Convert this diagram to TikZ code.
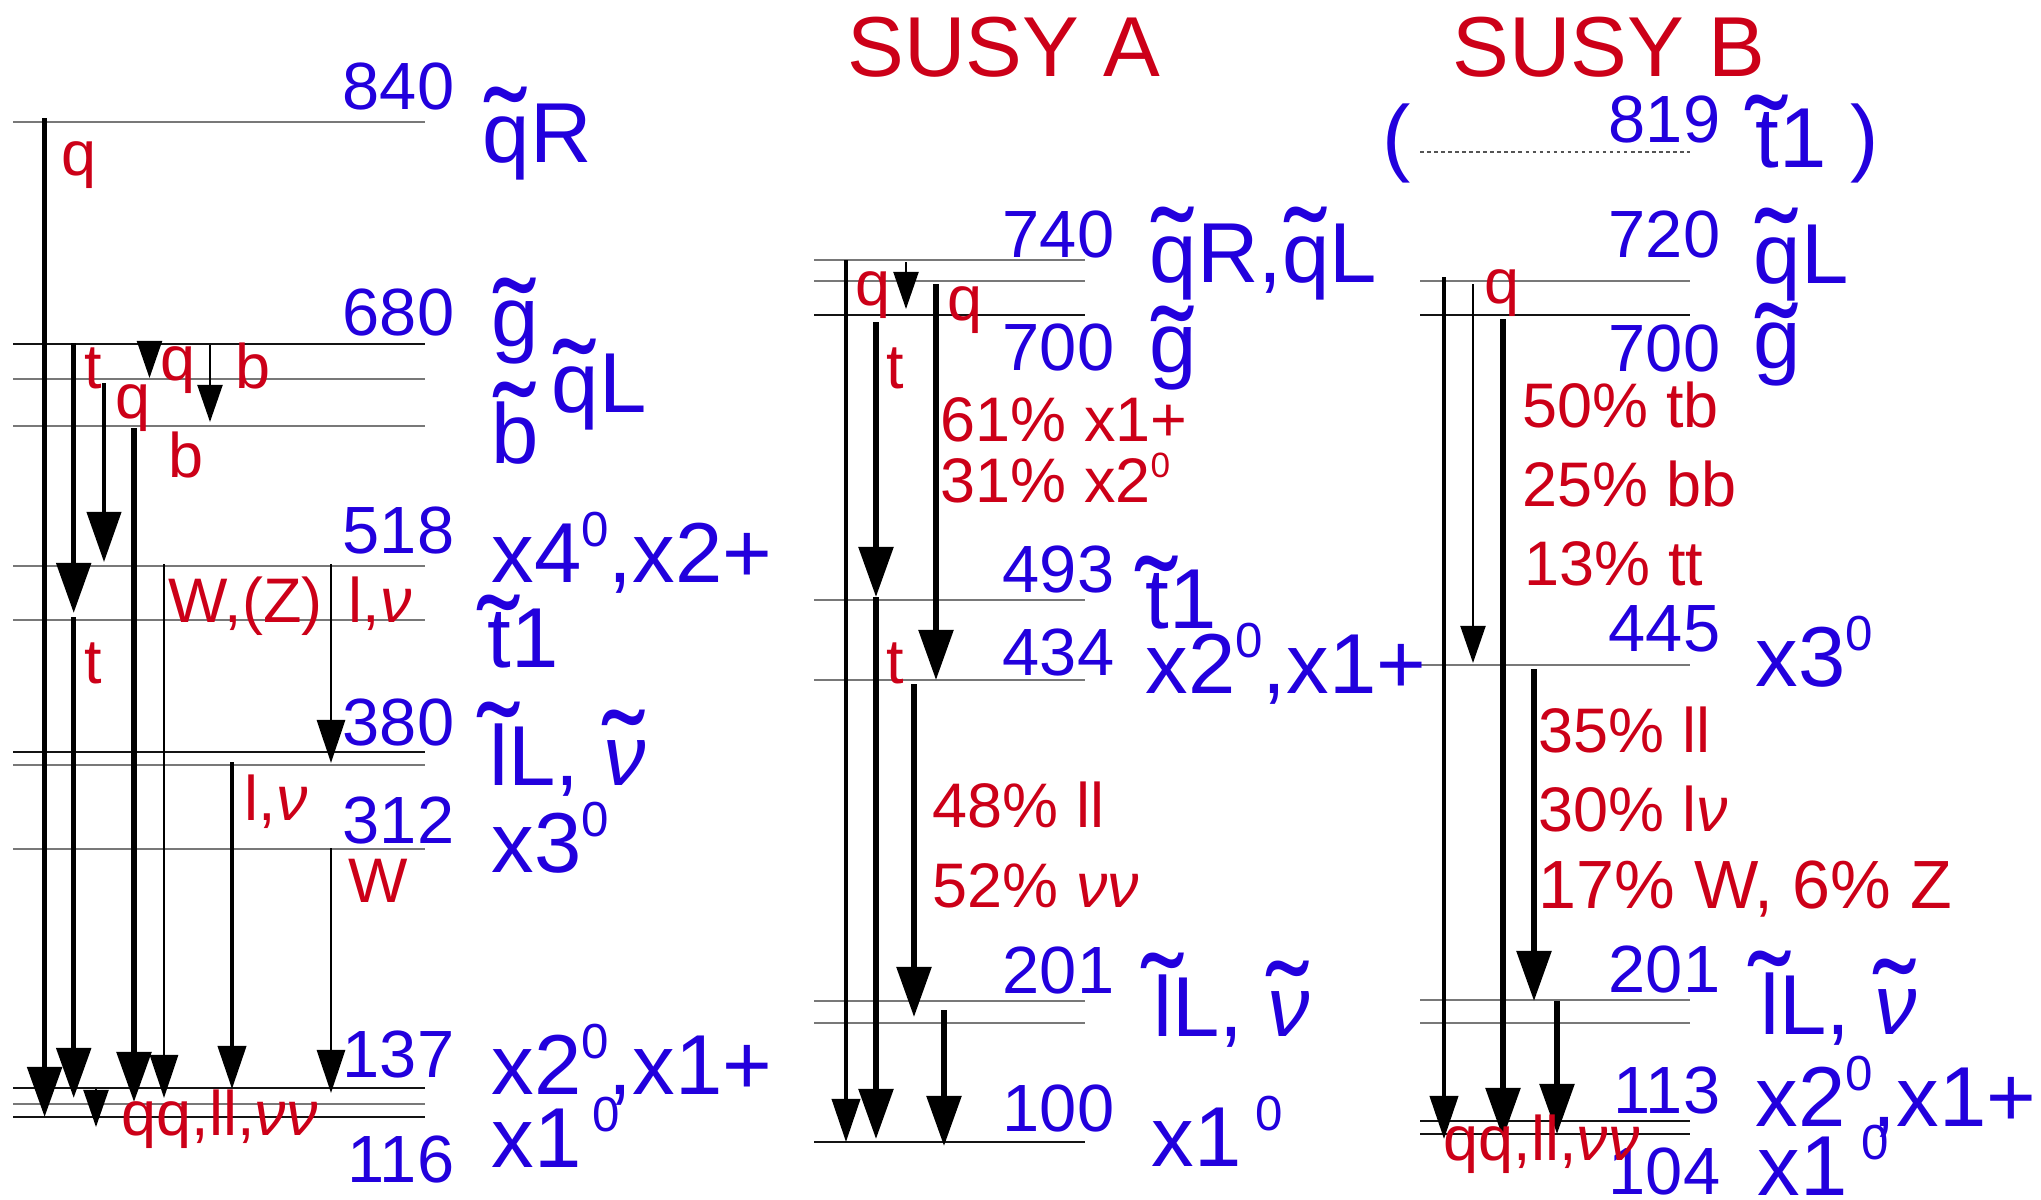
\documentclass[tikz,border=0pt]{standalone}
\usepackage{fontspec}
\usepackage{graphicx}
\setmainfont{Liberation Sans}
\usetikzlibrary{arrows.meta}
\definecolor{lblue}{RGB}{34,0,221}
\definecolor{lred}{RGB}{204,0,24}
\definecolor{lvgray}{RGB}{120,120,120}
\definecolor{lvblack}{RGB}{20,20,20}
\newcommand\tld[2][0.88]{{\setbox0\hbox{\char"02DC}\ooalign{#2\cr\hidewidth\raisebox{\dimexpr#1em-1.4\ht0\relax}{\scalebox{1.45}[1.4]{\copy0}}\hidewidth\cr}}}
\newcommand\vnu{{\itshape ν}}
\newcommand\sups[1]{\raisebox{10pt}{\fontsize{14}{14}\selectfont #1}}
\newcommand\rsup[1]{\raisebox{7pt}{\fontsize{10}{10}\selectfont #1}}
\tikzset{
 lvg/.style={line width=0.6pt, draw=lvgray},
 lvk/.style={line width=0.6pt, draw=lvblack},
 lvd/.style={line width=0.45pt, draw=lvgray!70!black, dash pattern=on 1pt off 1pt},
 arbig/.style={line width=1.55pt, -{Triangle[length=0.5cm,width=0.34cm]}},
 armed/.style={line width=0.85pt, -{Triangle[length=0.43cm,width=0.28cm]}},
 arsml/.style={line width=0.57pt, -{Triangle[length=0.37cm,width=0.25cm]}},
 num/.style={text=lblue, inner sep=0pt, anchor=base east, font=\fontsize{19}{19}\selectfont},
 nam/.style={text=lblue, inner sep=0pt, anchor=base west, font=\fontsize{24.2}{25}\selectfont},
 dec/.style={text=lred, inner sep=0pt, anchor=base west, font=\fontsize{17.9}{18}\selectfont},
 ttl/.style={text=lred, inner sep=0pt, anchor=base west, font=\fontsize{24.2}{25}\selectfont},
}
\begin{document}
\begin{tikzpicture}[x=0.01cm,y=-0.01cm]
\useasboundingbox (0,0) rectangle (2041,1200);
% ---------- level lines: left ----------
\draw[lvg] (13,122) -- (425,122);
\draw[lvk] (13,344) -- (425,344);
\draw[lvg] (13,379) -- (425,379);
\draw[lvg] (13,426) -- (425,426);
\draw[lvg] (13,566) -- (425,566);
\draw[lvg] (13,620) -- (425,620);
\draw[lvk] (13,752) -- (425,752);
\draw[lvg] (13,765) -- (425,765);
\draw[lvg] (13,849) -- (425,849);
\draw[lvk] (13,1088) -- (425,1088);
\draw[lvg] (13,1104) -- (425,1104);
\draw[lvk] (13,1117) -- (425,1117);
% ---------- level lines: middle ----------
\draw[lvg] (814,260) -- (1085,260);
\draw[lvg] (814,281) -- (1085,281);
\draw[lvk] (814,315) -- (1085,315);
\draw[lvg] (814,600) -- (1085,600);
\draw[lvg] (814,680) -- (1085,680);
\draw[lvg] (814,1001) -- (1085,1001);
\draw[lvg] (814,1023) -- (1085,1023);
\draw[lvk] (814,1142) -- (1085,1142);
% ---------- level lines: right ----------
\draw[lvd] (1420,152) -- (1690,152);
\draw[lvg] (1420,281) -- (1690,281);
\draw[lvk] (1420,315) -- (1690,315);
\draw[lvg] (1420,665) -- (1690,665);
\draw[lvg] (1420,1000) -- (1690,1000);
\draw[lvg] (1420,1023) -- (1690,1023);
\draw[lvk] (1420,1121) -- (1690,1121);
\draw[lvk] (1420,1134) -- (1690,1134);
% ---------- arrows: left ----------
\coordinate (L1a) at (44.6,118);  \coordinate (L1b) at (44.6,1117);
\coordinate (L2a) at (73.7,343);  \coordinate (L2b) at (73.7,613);
\coordinate (L3a) at (73.7,617);  \coordinate (L3b) at (73.7,1098);
\coordinate (L4a) at (96,1089);   \coordinate (L4b) at (96,1127);
\coordinate (L5a) at (104,383);   \coordinate (L5b) at (104,562);
\coordinate (L6a) at (134,428);   \coordinate (L6b) at (134,1102);
\coordinate (L7a) at (149.5,342); \coordinate (L7b) at (149.5,378);
\coordinate (L8a) at (164,564);   \coordinate (L8b) at (164,1098);
\coordinate (L9a) at (210,345);   \coordinate (L9b) at (210,422);
\coordinate (L10a) at (232,762);  \coordinate (L10b) at (232,1089);
\coordinate (L11a) at (331,564);  \coordinate (L11b) at (331,763);
\coordinate (L12a) at (331,848);  \coordinate (L12b) at (331,1093);
\draw[arbig] (L1a) -- (L1b);
\draw[arbig] (L2a) -- (L2b);
\draw[arbig] (L3a) -- (L3b);
\draw[arsml] (L4a) -- (L4b);
\draw[arbig, line width=1.15pt] (L5a) -- (L5b);
\draw[arbig] (L6a) -- (L6b);
\draw[arsml] (L7a) -- (L7b);
\draw[armed, line width=0.77pt] (L8a) -- (L8b);
\draw[arsml] (L9a) -- (L9b);
\draw[armed, line width=1.14pt] (L10a) -- (L10b);
\draw[armed, line width=0.77pt] (L11a) -- (L11b);
\draw[armed, line width=0.77pt] (L12a) -- (L12b);
% ---------- arrows: middle ----------
\coordinate (M1a) at (846,260);  \coordinate (M1b) at (846,1142);
\coordinate (M2a) at (876,322);  \coordinate (M2b) at (876,597);
\coordinate (M3a) at (876,597);  \coordinate (M3b) at (876,1139);
\coordinate (M4a) at (906,262);  \coordinate (M4b) at (906,309);
\coordinate (M5a) at (936,284);  \coordinate (M5b) at (936,680);
\coordinate (M6a) at (914,684);  \coordinate (M6b) at (914,1017);
\coordinate (M7a) at (944,1010); \coordinate (M7b) at (944,1146);
\draw[armed, line width=1.05pt] (M1a) -- (M1b);
\draw[arbig] (M2a) -- (M2b);
\draw[arbig] (M3a) -- (M3b);
\draw[arsml] (M4a) -- (M4b);
\draw[arbig] (M5a) -- (M5b);
\draw[arbig] (M6a) -- (M6b);
\draw[arbig] (M7a) -- (M7b);
% ---------- arrows: right ----------
\coordinate (R1a) at (1444,277); \coordinate (R1b) at (1444,1139);
\coordinate (R2a) at (1473,284); \coordinate (R2b) at (1473,663);
\coordinate (R3a) at (1503,319); \coordinate (R3b) at (1503,1138);
\coordinate (R4a) at (1534,669); \coordinate (R4b) at (1534,1001);
\coordinate (R5a) at (1557,1001); \coordinate (R5b) at (1557,1134);
\draw[armed, line width=1.14pt] (R1a) -- (R1b);
\draw[arsml] (R2a) -- (R2b);
\draw[arbig] (R3a) -- (R3b);
\draw[arbig] (R4a) -- (R4b);
\draw[arbig] (R5a) -- (R5b);
% ---------- titles ----------
\node[ttl] (tA) at (847,77) {SUSY A};
\node[ttl] (tB) at (1452,77) {SUSY B};
% ---------- blue: left ----------
\node[num] (n840) at (455,110) {840};
\node[num] (n680) at (455,335) {680};
\node[num] (n518) at (455,553) {518};
\node[num] (n380) at (455,745) {380};
\node[num] (n312) at (455,843) {312};
\node[num] (n137) at (455,1077) {137};
\node[num] (n116) at (455,1182) {116};
\node[nam] (pqR) at (482,162) {\tld{q}R};
\node[nam] (pg) at (491,346) {\tld[0.8]{g}};
\node[nam] (pqL) at (551,412) {\tld[0.86]{q}L};
\node[nam] (pb) at (491,463) {\tld[0.95]{b}};
\node[nam] (px4) at (491,582) {x4\sups{0},x2+};
\node[nam] (pt1) at (487,667) {\tld[0.84]{t}1};
\node[nam] (plL) at (489,785) {\tld[0.97]{l}L, \tld[0.88]{\vnu}};
\node[nam] (px3) at (491,872) {x3\sups{0}};
\node[nam] (px2) at (491,1094) {x2\sups{0},x1+};
\node[nam] (px1) at (491,1167) {x1\kern3pt\sups{0}};
% ---------- blue: middle ----------
\node[num] (m740) at (1115,257) {740};
\node[num] (m700) at (1115,370) {700};
\node[num] (m493) at (1115,592) {493};
\node[num] (m434) at (1115,675) {434};
\node[num] (m201) at (1115,993) {201};
\node[num] (m100) at (1115,1131) {100};
\node[nam] (mq) at (1149,282) {\tld{q}R,\tld{q}L};
\node[nam] (mg) at (1149,372) {\tld[0.78]{g}};
\node[nam] (mt1) at (1145,628) {\tld[0.84]{t}1};
\node[nam] (mx2) at (1145,693) {x2\sups{0},x1+};
\node[nam] (mlL) at (1153,1036) {\tld[0.97]{l}L, \tld[0.88]{\vnu}};
\node[nam] (mx1) at (1151,1166) {x1\kern4pt\sups{0}};
% ---------- blue: right ----------
\node[nam] (rpo) at (1382,166) {(};
\node[num] (r819) at (1721,142) {819};
\node[nam] (rt1) at (1755,167) {\tld[0.84]{t}1};
\node[nam] (rpc) at (1850,166) {)};
\node[num] (r720) at (1721,257) {720};
\node[num] (r700) at (1721,371) {700};
\node[num] (r445) at (1721,651) {445};
\node[num] (r201) at (1721,992) {201};
\node[num] (r113) at (1721,1113) {113};
\node[num] (r104) at (1721,1194) {104};
\node[nam] (rqL) at (1753,283) {\tld{q}L};
\node[nam] (rg) at (1753,368) {\tld[0.76]{g}};
\node[nam] (rx3) at (1755,686) {x3\sups{0}};
\node[nam] (rlL) at (1760,1034) {\tld[0.97]{l}L, \tld[0.88]{\vnu}};
\node[nam] (rx2) at (1755,1126) {x2\sups{0},x1+};
\node[nam] (rx1) at (1757,1195) {x1\kern4pt\sups{0}};
% ---------- red: left ----------
\node[dec] (dq1) at (61,175) {q};
\node[dec] (dt1) at (84,388) {t};
\node[dec] (dq2) at (160,380) {q};
\node[dec] (db1) at (235,388) {b};
\node[dec] (dq3) at (115,418) {q};
\node[dec] (db2) at (168,477) {b};
\node[dec] (dWZ) at (168,622) {W,(Z)};
\node[dec] (dln1) at (348,622) {l,\vnu};
\node[dec] (dt2) at (84,683) {t};
\node[dec] (dln2) at (244,820) {l,\vnu};
\node[dec] (dW) at (348,902) {W};
\node[dec] (dqq1) at (121,1135) {qq,ll,\vnu\vnu};
% ---------- red: middle ----------
\node[dec] (eq1) at (855,305) {q};
\node[dec] (eq2) at (947,320) {q};
\node[dec] (et1) at (886,388) {t};
\node[dec] (e61) at (940,441) {61\% x1+};
\node[dec] (e31) at (940,502) {31\% x2\rsup{0}};
\node[dec] (et2) at (886,683) {t};
\node[dec] (e48) at (932,827) {48\% ll};
\node[dec] (e52) at (932,907) {52\% \vnu\vnu};
% ---------- red: right ----------
\node[dec] (fq) at (1484,303) {q};
\node[dec] (f50) at (1522,427) {50\% tb};
\node[dec] (f25) at (1522,506) {25\% bb};
\node[dec] (f13) at (1524,585) {13\% tt};
\node[dec] (f35) at (1538,752) {35\% ll};
\node[dec] (f30) at (1538,831) {30\% l\vnu};
\node[dec, font=\fontsize{19.4}{20}\selectfont] (f17) at (1538,908) {17\% W, 6\% Z};
\node[dec] (fqq) at (1443,1160) {qq,ll,\vnu\vnu};
\end{tikzpicture}
\end{document}
